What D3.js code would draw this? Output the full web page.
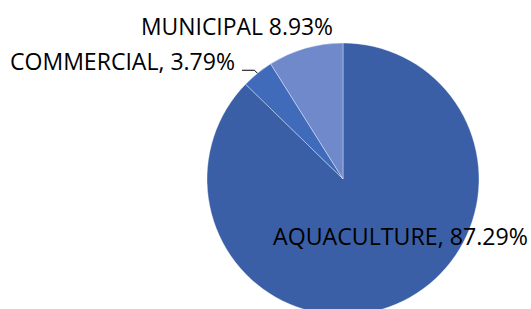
<!DOCTYPE html>
<html>
<head>
<meta charset="utf-8">
<script src="https://cdn.jsdelivr.net/npm/d3@7"></script>
<style>
    html, body { margin: 0; padding: 0; background: #fff; }
    svg text { font-family: "Open Sans", "Noto Sans", sans-serif; fill: #000; }
</style>
</head>
<body>
<div id="chart"></div>
<script>
// chart values
const categories = ['AQUACULTURE', 'COMMERCIAL', 'MUNICIPAL'];
const shares = [87.29, 3.79, 8.93];
const labelTexts = ['AQUACULTURE, 87.29%', 'COMMERCIAL, 3.79%', 'MUNICIPAL 8.93%'];

const width = 531;
const height = 309;
const cx = 343;
const cy = 179;
const radius = 136;
const fontSize = 23;

const colors = d3.scaleOrdinal()
    .domain(categories)
    .range(['#3a5fa7', '#3f6bba', '#6f89cb']);

// label placement relative to the pie centre: [dx, baselineDy, anchor, fitted width]
const labelLayout = {
    AQUACULTURE: [-70, 66, 'start', 255],
    COMMERCIAL: [-108, -109, 'end', 225],
    MUNICIPAL: [-10, -144, 'end', 192]
};

const svg = d3.select('#chart').append('svg')
    .attr('width', width)
    .attr('height', height);

const root = svg.append('g')
    .attr('transform', `translate(${cx}, ${cy})`);

const pie = d3.pie().sort(null).value(d => d.value);
const arc = d3.arc().innerRadius(0).outerRadius(radius);

const data = categories.map((c, i) => ({name: c, value: shares[i], label: labelTexts[i]}));
const arcs = pie(data);

root.selectAll('path.slice')
    .data(arcs)
    .enter()
    .append('path')
    .attr('class', 'slice')
    .attr('d', arc)
    .attr('fill', d => colors(d.data.name))
    .attr('stroke', '#ffffff')
    .attr('stroke-width', 0.6)
    .attr('stroke-opacity', 0.6);

// leader line for the small commercial slice
const comm = arcs[1];
const midAngle = (comm.startAngle + comm.endAngle) / 2;
const edge = [Math.sin(midAngle) * radius, -Math.cos(midAngle) * radius];
root.append('polyline')
    .attr('points', [edge, [edge[0] - 3, edge[1] - 3], [labelLayout.COMMERCIAL[0] + 7, edge[1] - 3]].map(p => p.join(',')).join(' '))
    .attr('fill', 'none')
    .attr('stroke', '#000')
    .attr('stroke-width', 1);

root.selectAll('text.lbl')
    .data(arcs)
    .enter()
    .append('text')
    .attr('class', 'lbl')
    .attr('x', d => labelLayout[d.data.name][0])
    .attr('y', d => labelLayout[d.data.name][1])
    .attr('text-anchor', d => labelLayout[d.data.name][2])
    .attr('font-size', fontSize)
    .attr('textLength', d => labelLayout[d.data.name][3])
    .attr('lengthAdjust', 'spacingAndGlyphs')
    .text(d => d.data.label);
</script>
</body>
</html>
